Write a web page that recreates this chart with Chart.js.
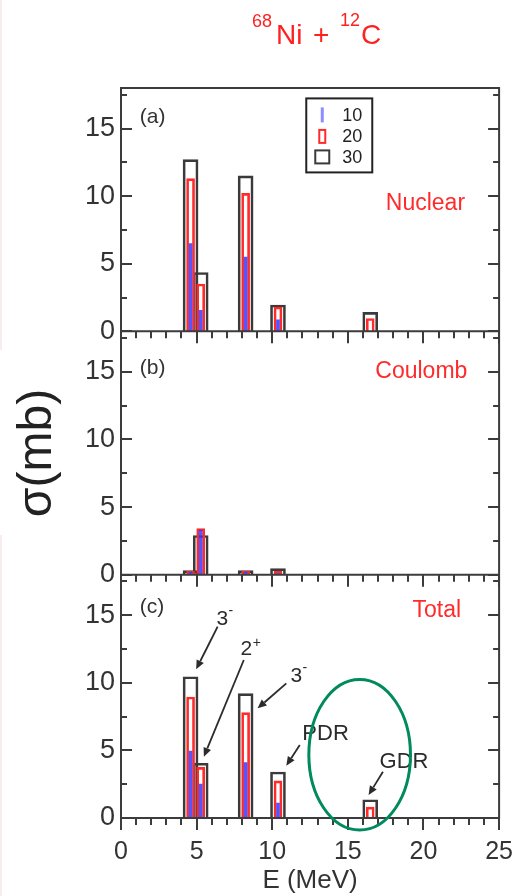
<!DOCTYPE html>
<html>
<head>
<meta charset="utf-8">
<script src="https://cdn.jsdelivr.net/npm/chart.js@4.4.1/dist/chart.umd.min.js"></script>
<style>
  html, body { margin: 0; padding: 0; background: #fff; }
  #wrap { position: relative; width: 532px; height: 896px; overflow: hidden; background: #fff; }
  #c { position: absolute; left: 0; top: 0; }
  .t { position: absolute; color: #ff2020; font-family: 'Liberation Sans', Arial, sans-serif; white-space: nowrap; line-height: 1; }
  .edge { position: absolute; left: 0; width: 2px; background: #f7eded; }
</style>
</head>
<body>
<div id="wrap">
  <div class="edge" style="top:0;height:350px"></div>
  <div class="edge" style="top:535px;height:361px"></div>
  <canvas id="c" width="532" height="896"></canvas>
  <span class="t" style="left:252px;top:12px;font-size:18px">68</span>
  <span class="t" style="left:276px;top:21px;font-size:28px">Ni</span>
  <span class="t" style="left:313px;top:21px;font-size:28px">+</span>
  <span class="t" style="left:340px;top:11px;font-size:18px">12</span>
  <span class="t" style="left:361px;top:21px;font-size:28px">C</span>
</div>
<script>
// Excitation energies of the states (MeV)
const energies = [4.6, 5.27, 8.24, 10.38, 16.48];
// series labels shown in the legend
const seriesLabels = ['10', '20', '30'];

// (a) nuclear excitation cross sections (mb)
const nuclear10 = [6.5, 1.55, 5.5, 0.85, 0];
const nuclear20 = [11.3, 3.5, 10.2, 1.8, 0.95];
const nuclear30 = [12.7, 4.35, 11.5, 1.95, 1.4];
// (b) Coulomb excitation cross sections (mb)
const coulomb10 = [0.2, 3.3, 0.2, 0.1, 0];
const coulomb20 = [0.25, 3.4, 0.25, 0.25, 0];
const coulomb30 = [0.3, 2.9, 0.3, 0.45, 0];
// (c) total cross sections (mb)
const total10 = [4.95, 2.5, 4.1, 1.1, 0];
const total20 = [8.95, 3.75, 7.8, 2.75, 0.8];
const total30 = [10.45, 4.05, 9.2, 3.4, 1.35];

// labelled tick values
const xTickLabels = [0, 5, 10, 15, 20, 25];
const yTickLabels = [0, 5, 10, 15];

const panelTags = ['(a)', '(b)', '(c)'];
const panelNames = ['Nuclear', 'Coulomb', 'Total'];

const FONT = "'Liberation Sans', Arial, sans-serif";
const INK = '#333';

const seriesStyle = [
  { bg: 'rgba(55,55,255,0.85)', border: 'rgba(0,0,0,0)', bw: 0, thick: 3, legendBg: '#8d8dff' },
  { bg: 'rgba(255,255,255,0)', border: '#ff2b2b', bw: 2, thick: 8 },
  { bg: 'rgba(255,255,255,0)', border: '#3a3a3a', bw: 2, thick: 15 }
];

const panels = [
  { axis: 'ya', series: [nuclear10, nuclear20, nuclear30] },
  { axis: 'yb', series: [coulomb10, coulomb20, coulomb30] },
  { axis: 'yc', series: [total10, total20, total30] }
];

const datasets = [];
panels.forEach(p => {
  p.series.forEach((vals, s) => {
    const st = seriesStyle[s];
    datasets.push({
      label: seriesLabels[s],
      xAxisID: 'x',
      yAxisID: p.axis,
      data: energies.map((e, i) => ({ x: e, y: vals[i] })),
      backgroundColor: st.bg,
      borderColor: st.border,
      borderWidth: st.bw,
      barThickness: st.thick,
      grouped: false,
      order: s
    });
  });
});

// text placed in data units of each panel
const tagPos = [{ e: 1.24, v: 15.87 }, { e: 1.24, v: 15.27 }, { e: 1.24, v: 15.58 }];
const namePos = [{ e: 22.75, v: 9.45 }, { e: 22.9, v: 15.01 }, { e: 22.49, v: 15.31 }];
const stateLabels = [
  { text: '3', sup: '-', e: 6.31, v: 14.27, size: 21 },
  { text: '2', sup: '+', e: 7.90, v: 12.06, size: 21 },
  { text: '3', sup: '-', e: 11.20, v: 10.08, size: 21 },
  { text: 'PDR', sup: '', e: 11.99, v: 5.77, size: 22 },
  { text: 'GDR', sup: '', e: 17.10, v: 3.68, size: 22 }
];
const arrows = [
  { from: [6.39, 14.15], to: [4.97, 11.0] },
  { from: [8.12, 11.69], to: [5.48, 4.53] },
  { from: [10.93, 9.96], to: [9.03, 8.11] },
  { from: [11.82, 5.4], to: [10.93, 3.87] },
  { from: [17.32, 3.42], to: [16.37, 1.70] }
];
const legendAt = { e: 12.25, v: 17.23 };
const highlight = { e: 15.78, v: 4.68, re: 3.36, rv: 5.57 };

const decor = {
  id: 'decor',
  afterDraw(chart) {
    const { ctx, chartArea: a, scales } = chart;
    const xs = scales.x;
    const ys = [scales.ya, scales.yb, scales.yc];
    ctx.save();
    ctx.strokeStyle = '#3c3c3c';
    ctx.lineWidth = 2;

    // frame and panel separators
    ctx.beginPath();
    ctx.moveTo(a.left, a.top); ctx.lineTo(a.left, a.bottom);
    ctx.moveTo(a.right, a.top); ctx.lineTo(a.right, a.bottom);
    ctx.moveTo(a.left - 1, a.top); ctx.lineTo(a.right + 1, a.top);
    ys.forEach(s => {
      const base = s.getPixelForValue(0);
      ctx.moveTo(a.left - 1, base); ctx.lineTo(a.right + 1, base);
    });
    ctx.stroke();

    // y ticks, inward on both sides
    ctx.beginPath();
    ys.forEach(s => {
      s.ticks.forEach(t => {
        const py = Math.round(s.getPixelForValue(t.value));
        const len = yTickLabels.includes(t.value) ? 11 : 6;
        ctx.moveTo(a.left, py); ctx.lineTo(a.left + len, py);
        ctx.moveTo(a.right, py); ctx.lineTo(a.right - len, py);
      });
    });
    ctx.stroke();

    // x ticks hanging below each panel
    ctx.beginPath();
    ys.forEach(s => {
      const base = s.getPixelForValue(0);
      xs.ticks.forEach(t => {
        const px = Math.round(xs.getPixelForValue(t.value));
        const len = xTickLabels.includes(t.value) ? 12 : 7;
        ctx.moveTo(px, base);
        ctx.lineTo(px, base + len);
      });
    });
    ctx.stroke();

    const P = (s, e, v) => [xs.getPixelForValue(e), s.getPixelForValue(v)];

    // panel tags and names
    ys.forEach((s, i) => {
      ctx.textBaseline = 'middle';
      ctx.textAlign = 'left';
      ctx.fillStyle = INK;
      ctx.font = `21px ${FONT}`;
      const [tx, ty] = P(s, tagPos[i].e, tagPos[i].v);
      ctx.fillText(panelTags[i], tx, ty);
      ctx.textAlign = 'right';
      ctx.fillStyle = '#ff2a2a';
      ctx.font = `23px ${FONT}`;
      const [nx, ny] = P(s, namePos[i].e, namePos[i].v);
      ctx.fillText(panelNames[i], nx, ny);
    });

    // legend box in panel (a)
    const [lx, ly] = P(ys[0], legendAt.e, legendAt.v);
    ctx.lineWidth = 2;
    ctx.strokeStyle = '#222';
    ctx.strokeRect(lx, ly, 66, 74);
    const rows = [16.5, 38, 58.5];
    ctx.textAlign = 'left';
    ctx.textBaseline = 'middle';
    ctx.font = `18px ${FONT}`;
    seriesLabels.forEach((lab, s) => {
      const cy = ly + rows[s];
      const cx = lx + 16;
      const st = seriesStyle[s];
      if (s === 0) {
        ctx.fillStyle = st.legendBg;
        ctx.fillRect(cx - 1.5, cy - 7.5, 3, 15);
      } else if (s === 1) {
        ctx.strokeStyle = st.border;
        ctx.lineWidth = 2;
        ctx.strokeRect(cx - 3, cy - 6.5, 6, 13);
      } else {
        ctx.strokeStyle = st.border;
        ctx.lineWidth = 2;
        ctx.strokeRect(cx - 7, cy - 6.5, 14, 13);
      }
      ctx.fillStyle = '#222';
      ctx.fillText(lab, lx + 36, cy + 1);
    });

    // state labels and arrows in panel (c)
    const sc = ys[2];
    ctx.fillStyle = '#2b2b2b';
    ctx.textBaseline = 'alphabetic';
    ctx.textAlign = 'left';
    stateLabels.forEach(l => {
      const [x, y] = P(sc, l.e, l.v);
      ctx.font = `${l.size}px ${FONT}`;
      ctx.fillText(l.text, x, y);
      if (l.sup) {
        const w = ctx.measureText(l.text).width;
        ctx.font = `14px ${FONT}`;
        ctx.fillText(l.sup, x + w + 0.5, y - (l.sup === '-' ? 10 : 8));
      }
    });
    ctx.strokeStyle = '#2b2b2b';
    ctx.lineWidth = 1.8;
    arrows.forEach(ar => {
      const [x1, y1] = P(sc, ar.from[0], ar.from[1]);
      const [x2, y2] = P(sc, ar.to[0], ar.to[1]);
      const ang = Math.atan2(y2 - y1, x2 - x1);
      const hl = 9, hw = 4;
      const bx = x2 - hl * Math.cos(ang), bY = y2 - hl * Math.sin(ang);
      ctx.beginPath();
      ctx.moveTo(x1, y1); ctx.lineTo(bx, bY);
      ctx.stroke();
      ctx.beginPath();
      ctx.moveTo(x2, y2);
      ctx.lineTo(bx + hw * Math.sin(ang), bY - hw * Math.cos(ang));
      ctx.lineTo(bx - hw * Math.sin(ang), bY + hw * Math.cos(ang));
      ctx.closePath();
      ctx.fill();
    });

    // highlight around the giant dipole region
    const [ex, ey] = P(sc, highlight.e, highlight.v);
    const rx = xs.getPixelForValue(highlight.e + highlight.re) - ex;
    const ry = ey - sc.getPixelForValue(highlight.v + highlight.rv);
    ctx.beginPath();
    ctx.ellipse(ex, ey, rx, ry, 0, 0, Math.PI * 2);
    ctx.strokeStyle = '#008a5e';
    ctx.lineWidth = 3;
    ctx.stroke();
    ctx.restore();
  }
};

function yAxis(extra) {
  return Object.assign({
    type: 'linear',
    position: 'left',
    stack: 'panels',
    stackWeight: 1,
    min: 0,
    max: 18,
    grid: { display: false, drawTicks: false },
    border: { display: false },
    ticks: {
      stepSize: 2.5,
      includeBounds: false,
      autoSkip: false,
      padding: 6,
      color: INK,
      font: { family: FONT, size: 27 },
      callback: v => (yTickLabels.includes(v) ? String(v) : '')
    },
    afterFit: s => { s.width = 121; }
  }, extra || {});
}

new Chart(document.getElementById('c'), {
  type: 'bar',
  data: { datasets },
  options: {
    responsive: false,
    animation: false,
    devicePixelRatio: 1,
    events: [],
    layout: { padding: { top: 88, right: 17, bottom: 0, left: 0 } },
    plugins: { legend: { display: false }, tooltip: { enabled: false } },
    scales: {
      x: {
        type: 'linear',
        position: 'bottom',
        min: 0,
        max: 25,
        offset: false,
        grid: { display: false, drawTicks: false },
        border: { display: false },
        ticks: {
          stepSize: 1,
          autoSkip: false,
          maxRotation: 0,
          minRotation: 0,
          padding: 19,
          color: INK,
          font: { family: FONT, size: 25 },
          callback: v => (xTickLabels.includes(v) ? String(v) : '')
        },
        title: { display: true, text: 'E (MeV)', color: INK, font: { family: FONT, size: 26 }, padding: { top: 0, bottom: 0 } },
        afterFit: s => { s.height = 78; }
      },
      yc: yAxis(),
      yb: yAxis({
        title: { display: true, text: 'σ(mb)', color: '#222', font: { family: FONT, size: 48 }, padding: { top: 9, bottom: 0 } }
      }),
      ya: yAxis()
    }
  },
  plugins: [decor]
});
</script>
</body>
</html>
